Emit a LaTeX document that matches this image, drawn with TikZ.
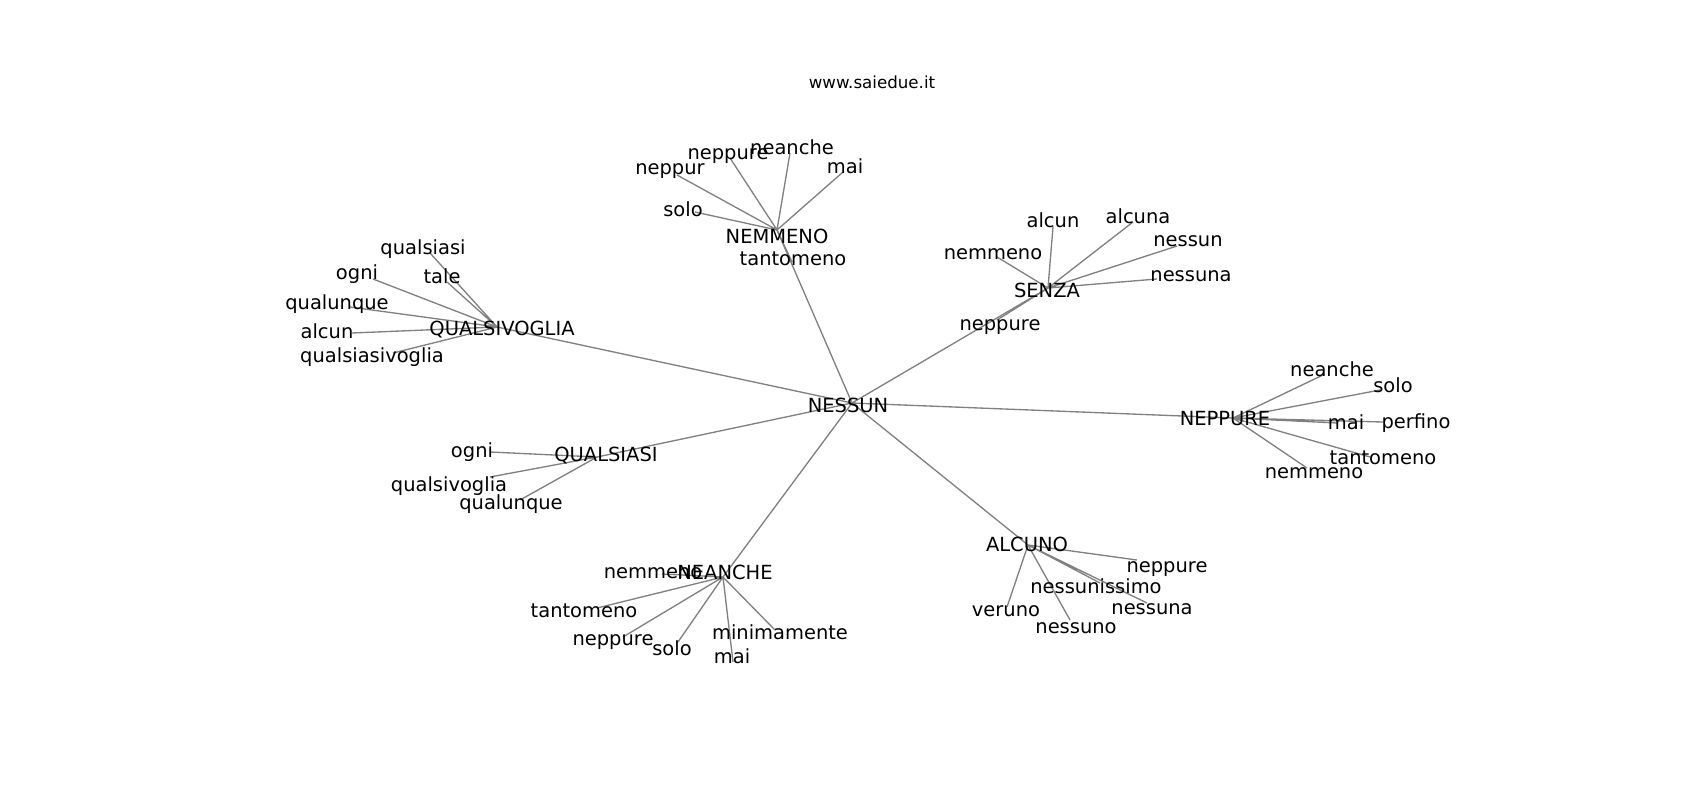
\documentclass[tikz,border=0pt]{standalone}
\usepackage{fontspec}
\setmainfont{DejaVu Sans}
\usepackage{tikz}

\begin{document}
\begin{tikzpicture}[
        x=0.75pt, y=-0.75pt,
        every node/.style={font=\fontsize{14.6}{17}\selectfont},
        word/.style={inner sep=0pt, text height=0.76em, text depth=0.24em, yshift=-2.25pt},
        edge/.style={draw=black!50, line width=1pt},
        title/.style={font=\fontsize{12.5}{15}\selectfont}
    ]
        \useasboundingbox (0,0) rectangle (1700,800);
        % Hub points
        \coordinate (nessun) at (852,403);
        \coordinate (nem) at (777,230);
        \coordinate (qv) at (497,327);
        \coordinate (senza) at (1048,288);
        \coordinate (nep) at (1233,418);
        \coordinate (qs) at (597,457);
        \coordinate (nea) at (723,577);
        \coordinate (alc) at (1028,545);
        % Leaf points: NEMMENO
        \coordinate (nem1) at (695,212);
        \coordinate (nem2) at (677,175);
        \coordinate (nem3) at (730,158);
        \coordinate (nem4) at (790,153);
        \coordinate (nem5) at (843,172);
        \coordinate (nem6) at (792,262);
        % Leaf points: QUALSIVOGLIA
        \coordinate (qv1) at (430,253);
        \coordinate (qv2) at (373,279);
        \coordinate (qv3) at (447,282);
        \coordinate (qv4) at (350,307);
        \coordinate (qv5) at (352,333);
        \coordinate (qv6) at (393,353);
        % Leaf points: SENZA
        \coordinate (senza1) at (1053,227);
        \coordinate (senza2) at (1133,222);
        \coordinate (senza3) at (997,257);
        \coordinate (senza4) at (1177,246);
        \coordinate (senza5) at (1157,279);
        \coordinate (senza6) at (997,320);
        % Leaf points: NEPPURE
        \coordinate (nep1) at (1323,375);
        \coordinate (nep2) at (1380,390);
        \coordinate (nep3) at (1337,423);
        \coordinate (nep4) at (1383,422);
        \coordinate (nep5) at (1370,457);
        \coordinate (nep6) at (1307,468);
        % Leaf points: QUALSIASI
        \coordinate (qs1) at (490,452);
        \coordinate (qs2) at (490,477);
        \coordinate (qs3) at (520,500);
        % Leaf points: NEANCHE
        \coordinate (nea1) at (662,574);
        \coordinate (nea2) at (597,608);
        \coordinate (nea3) at (623,637);
        \coordinate (nea4) at (678,642);
        \coordinate (nea5) at (733,662);
        \coordinate (nea6) at (775,630);
        % Leaf points: ALCUNO
        \coordinate (alc1) at (1137,560);
        \coordinate (alc2) at (1100,583);
        \coordinate (alc3) at (1147,603);
        \coordinate (alc4) at (1007,607);
        \coordinate (alc5) at (1070,620);
        % Edges: centre to hubs
        \draw[edge] (nessun) -- (nem) (nessun) -- (qv) (nessun) -- (senza) (nessun) -- (nep)
            (nessun) -- (qs) (nessun) -- (nea) (nessun) -- (alc);
        % Edges: hubs to leaves
        \draw[edge] (nem) -- (nem1) (nem) -- (nem2) (nem) -- (nem3) (nem) -- (nem4) (nem) -- (nem5) (nem) -- (nem6);
        \draw[edge] (qv) -- (qv1) (qv) -- (qv2) (qv) -- (qv3) (qv) -- (qv4) (qv) -- (qv5) (qv) -- (qv6);
        \draw[edge] (senza) -- (senza1) (senza) -- (senza2) (senza) -- (senza3) (senza) -- (senza4) (senza) -- (senza5) (senza) -- (senza6);
        \draw[edge] (nep) -- (nep1) (nep) -- (nep2) (nep) -- (nep3) (nep) -- (nep4) (nep) -- (nep5) (nep) -- (nep6);
        \draw[edge] (qs) -- (qs1) (qs) -- (qs2) (qs) -- (qs3);
        \draw[edge] (nea) -- (nea1) (nea) -- (nea2) (nea) -- (nea3) (nea) -- (nea4) (nea) -- (nea5) (nea) -- (nea6);
        \draw[edge] (alc) -- (alc1) (alc) -- (alc2) (alc) -- (alc3) (alc) -- (alc4) (alc) -- (alc5);
        % Title
        \node[title] (site) at (872,82) {www.saiedue.it};
        % Hub labels
        \node[word] (l-nessun) at (848,406) {NESSUN};
        \node[word] (l-nem) at (777,237) {NEMMENO};
        \node[word] (l-qv) at (502,329) {QUALSIVOGLIA};
        \node[word] (l-senza) at (1047,291) {SENZA};
        \node[word] (l-nep) at (1225,419) {NEPPURE};
        \node[word] (l-qs) at (606,455) {QUALSIASI};
        % NEMMENO leaves
        \node[word] (l-nem1) at (683,210) {solo};
        \node[word] (l-nem2) at (670,168) {neppur};
        \node[word] (l-nem3) at (728,153) {neppure};
        \node[word] (l-nem4) at (792,148) {neanche};
        \node[word] (l-nem5) at (845,167) {mai};
        \node[word] (l-nem6) at (793,259) {tantomeno};
        % QUALSIVOGLIA leaves
        \node[word] (l-qv1) at (423,248) {qualsiasi};
        \node[word] (l-qv2) at (357,273) {ogni};
        \node[word] (l-qv3) at (442,277) {tale};
        \node[word] (l-qv4) at (337,303) {qualunque};
        \node[word] (l-qv5) at (327,332) {alcun};
        \node[word] (l-qv6) at (372,356) {qualsiasivoglia};
        % SENZA leaves
        \node[word] (l-senza1) at (1053,221) {alcun};
        \node[word] (l-senza2) at (1138,217) {alcuna};
        \node[word] (l-senza3) at (993,253) {nemmeno};
        \node[word] (l-senza4) at (1188,240) {nessun};
        \node[word] (l-senza5) at (1191,275) {nessuna};
        \node[word] (l-senza6) at (1000,324) {neppure};
        % NEPPURE leaves
        \node[word] (l-nep1) at (1332,370) {neanche};
        \node[word] (l-nep2) at (1393,386) {solo};
        \node[word] (l-nep3) at (1346,423) {mai};
        \node[word] (l-nep4) at (1416,422) {perfino};
        \node[word] (l-nep5) at (1383,458) {tantomeno};
        \node[word] (l-nep6) at (1314,472) {nemmeno};
        % QUALSIASI leaves
        \node[word] (l-qs1) at (472,451) {ogni};
        \node[word] (l-qs2) at (449,485) {qualsivoglia};
        \node[word] (l-qs3) at (511,503) {qualunque};
        % NEANCHE leaves
        \node[word] (l-nea1) at (653,572) {nemmeno};
        \node[word] (l-nea) at (725,573) {NEANCHE};
        \node[word] (l-nea2) at (584,611) {tantomeno};
        \node[word] (l-nea3) at (613,639) {neppure};
        \node[word] (l-nea4) at (672,649) {solo};
        \node[word] (l-nea5) at (732,657) {mai};
        \node[word] (l-nea6) at (780,633) {minimamente};
        % ALCUNO leaves
        \node[word] (l-alc) at (1027,545) {ALCUNO};
        \node[word] (l-alc1) at (1167,566) {neppure};
        \node[word] (l-alc2) at (1096,587) {nessunissimo};
        \node[word] (l-alc3) at (1152,608) {nessuna};
        \node[word] (l-alc4) at (1006,610) {veruno};
        \node[word] (l-alc5) at (1076,627) {nessuno};
    \end{tikzpicture}
\end{document}
